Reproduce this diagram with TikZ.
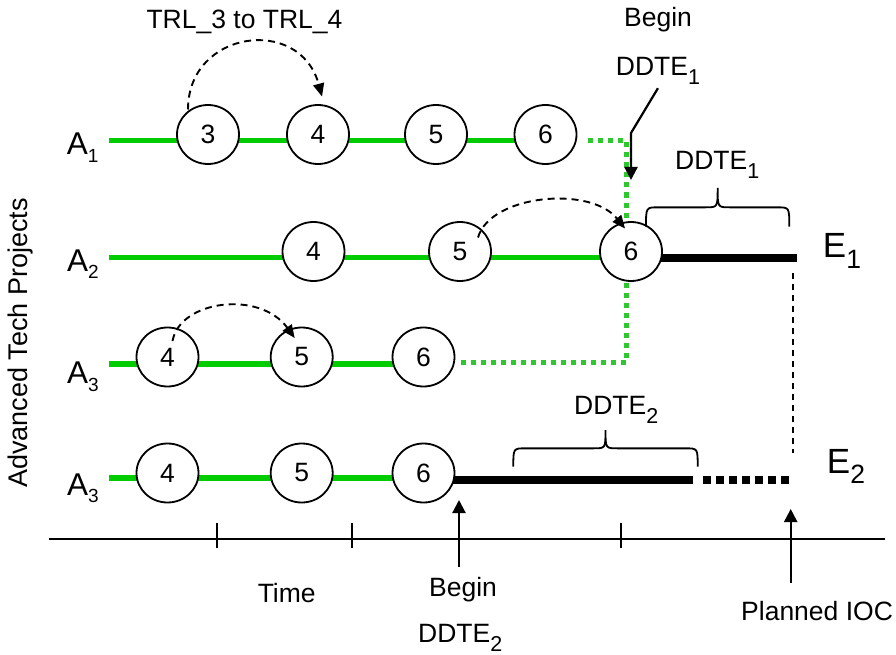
\documentclass[tikz,border=0pt]{standalone}
\usepackage{fontspec}
\setmainfont{Liberation Sans}
\usetikzlibrary{arrows.meta,calc,shapes.geometric}
\pgfdeclarelayer{background}
\pgfsetlayers{background,main}
\definecolor{tgreen}{RGB}{0,204,0}
\definecolor{tdot}{RGB}{45,200,45}
\newcommand\fsz[1]{\fontsize{#1}{#1}\selectfont}
\newcommand\dsub[1]{\raisebox{-9pt}{\fsz{21.5}#1}}
\newcommand\asub[1]{{\fsz{31.5}A}\raisebox{-7.7pt}{\fsz{19}#1}}
\newcommand\esub[1]{{\fsz{35}E}\raisebox{-10.5pt}{\fsz{26.5}#1}}
\newcommand\hbrace[4]{% x1 x2 ybottom ytip
  \draw[bracestyle] (#1,#3) .. controls (#1,{(#3+#4)/2}) .. ({#1+12},{(#3+#4)/2})
    -- ({(#1+#2)/2-12},{(#3+#4)/2}) .. controls ({(#1+#2)/2},{(#3+#4)/2}) .. ({(#1+#2)/2},#4)
    .. controls ({(#1+#2)/2},{(#3+#4)/2}) .. ({(#1+#2)/2+12},{(#3+#4)/2})
    -- ({#2-12},{(#3+#4)/2}) .. controls (#2,{(#3+#4)/2}) .. (#2,#3);}
\begin{document}
\begin{tikzpicture}[x=1pt,y=-1pt,
  lbl/.style={inner sep=0pt,font=\fsz{26.5}},
  stage/.style={ellipse,draw,line width=1.8pt,fill=white,minimum width=62pt,minimum height=59pt,inner sep=0pt,font=\fsz{26.5}},
  gline/.style={line width=5.5pt,draw=tgreen},
  gdot/.style={line width=5pt,draw=tdot,dash pattern=on 5pt off 5pt},
  bthick/.style={line width=8pt},
  bdot/.style={line width=8pt,dash pattern=on 8pt off 5pt},
  jump/.style={line width=1.9pt,dash pattern=on 7pt off 5pt,-{Triangle[length=13pt,width=11pt]}},
  pointer/.style={line width=2.2pt,-{Triangle[length=13pt,width=13pt]}},
  bracestyle/.style={line width=1.8pt},
  axisline/.style={line width=1.8pt}]
\useasboundingbox (0,0) rectangle (896,655);

% stage circles
\node[stage] (c13) at (208,134.5) {3};
\node[stage] (c14) at (318,134.5) {4};
\node[stage] (c15) at (436,134.5) {5};
\node[stage] (c16) at (545.5,134.5) {6};
\node[stage] (c24) at (313.5,251.5) {4};
\node[stage] (c25) at (460,251.5) {5};
\node[stage] (c26) at (631,251.5) {6};
\node[stage] (c34) at (167.5,357) {4};
\node[stage] (c35) at (301.7,357) {5};
\node[stage] (c36) at (423.5,357) {6};
\node[stage] (c44) at (167.5,473) {4};
\node[stage] (c45) at (301.7,473) {5};
\node[stage] (c46) at (423.5,473) {6};

% row start points
\coordinate (r1) at (109,140.5);
\coordinate (r2) at (109,257.5);
\coordinate (r3) at (109,364);
\coordinate (r4) at (109,478);
\coordinate (e1end) at (797,257.5);
\coordinate (e2mid) at (693,480);
\coordinate (e2dot) at (703,480);
\coordinate (e2end) at (790,480);
\coordinate (g1) at (588,140.5);
\coordinate (g2) at (626,140.5);
\coordinate (g3) at (626,362);
\coordinate (g4) at (458,362);

\begin{pgfonlayer}{background}
  \draw[gline] (r1) -- (r1 -| c16.center);
  \draw[gline] (r2) -- (r2 -| c26.center);
  \draw[gline] (r3) -- (r3 -| c36.center);
  \draw[gline] (r4) -- (r4 -| c46.center);
  \draw[gdot] (g1) -- (g2) -- (g3) -- (g4);
  \draw[bthick] (e1end -| c26.center) -- (e1end);
  \draw[bthick] (e2mid -| c46.center) -- (e2mid);
  \draw[bdot] (e2dot) -- (e2end);
\end{pgfonlayer}

% row labels
\node[inner sep=0pt,anchor=base west] (a1) at (66.7,155) {\asub{1}};
\node[inner sep=0pt,anchor=base west] (a2) at (67,271) {\asub{2}};
\node[inner sep=0pt,anchor=base west] (a3) at (67,383.3) {\asub{3}};
\node[inner sep=0pt,anchor=base west] (a4) at (67,495) {\asub{3}};
\node[inner sep=0pt,anchor=base west] (e1) at (822.7,257.7) {\esub{1}};
\node[inner sep=0pt,anchor=base west] (e2) at (826.7,473.3) {\esub{2}};
\node[lbl,rotate=90,font=\fsz{27}] (ylab) at (21,343) {Advanced Tech Projects};

% TRL jumps
\node[lbl,anchor=base] (trl) at (244.5,29) {TRL\_3 to TRL\_4};
\draw[jump] ($(c13.center)+(-20,-25)$) .. controls (188,30) and (300,15) .. ($(c14.center)+(4,-38)$);
\draw[jump] ($(c25.center)+(18,-14)$) .. controls (490,195) and (590,185) .. ($(c26.center)+(-6,-23)$);
\draw[jump] ($(c34.center)+(5,-16)$) .. controls (180,300) and (260,290) .. ($(c35.center)+(-7,-19)$);

% Begin DDTE1
\node[lbl,anchor=base] (beg1) at (658,27) {Begin};
\node[lbl,anchor=base west] (dd1) at (615.7,76) {DDTE\dsub{1}};
\coordinate (p1) at (631,133);
\coordinate (p2) at (631,180);
\draw[pointer] ($(dd1.south)+(0,3)$) -- (p1) -- (p2);

% braces
\hbrace{646}{789.3}{226.7}{188}
\node[lbl,anchor=base west] (dd1b) at (675,169.3) {DDTE\dsub{1}};
\hbrace{513.3}{697.7}{466.7}{430}
\node[lbl,anchor=base west] (dd2a) at (574,414) {DDTE\dsub{2}};

% IOC dashed
\coordinate (v1) at (793,273);
\coordinate (v2) at (793,453);
\draw[line width=1.6pt,dash pattern=on 6pt off 5pt] (v1) -- (v2);

% time axis
\coordinate (ax0) at (49,539.3);
\coordinate (ax1) at (885,539.3);
\draw[axisline] (ax0) -- (ax1);
\foreach \tx in {216.7,351.7,620.7} \draw[axisline] (\tx,523) -- (\tx,548);
\node[lbl,anchor=base] (time) at (286.7,602.7) {Time};

% Begin DDTE2
\coordinate (q1) at (459,567);
\coordinate (q2) at (459,500);
\draw[pointer] (q1) -- (q2);
\node[lbl,anchor=base] (beg2) at (463,596) {Begin};
\node[lbl,anchor=base west] (dd2b) at (418,642.7) {DDTE\dsub{2}};

% Planned IOC
\coordinate (s1) at (790.7,583);
\coordinate (s2) at (790.7,509);
\draw[pointer] (s1) -- (s2);
\node[lbl,anchor=base west] (ioc) at (741,620.7) {Planned IOC};
\end{tikzpicture}
\end{document}
